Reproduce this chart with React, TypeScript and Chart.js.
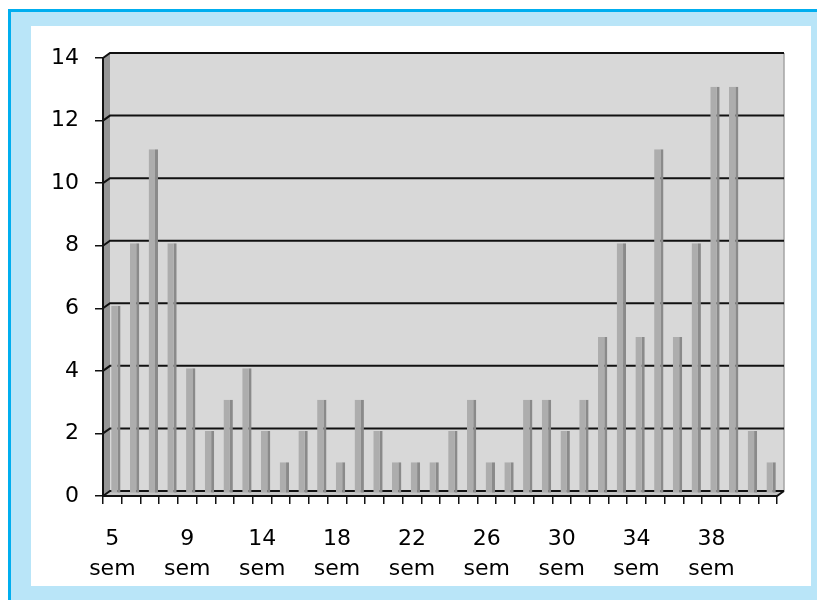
import React, { useEffect, useRef } from "react";
import { Chart, registerables } from "chart.js";

Chart.register(...registerables);

const weeks = [5, 6, 7, 8, 9, 10, 11, 13, 14, 15, 16, 17, 18, 19, 20, 21, 22, 23, 24, 25, 26, 27, 28, 29, 30, 31, 32, 33, 34, 35, 36, 37, 38, 39, 40, 41];
const counts = [6, 8, 11, 8, 4, 2, 3, 4, 2, 1, 2, 3, 1, 3, 2, 1, 1, 1, 2, 3, 1, 1, 3, 3, 2, 3, 5, 8, 5, 11, 5, 8, 13, 13, 2, 1];
const yTicks = [0, 2, 4, 6, 8, 10, 12, 14];
const unitLabel = "sem";

const FONT = '"DejaVu Sans", Verdana, sans-serif';
const DX = 7;
const DY = 5;

const wallPlugin = {
  id: "wall3d",
  beforeDatasetsDraw(chart: any) {
    const { ctx, chartArea } = chart;
    const { left: L, right: R, top: T, bottom: B } = chartArea;
    const y = chart.scales.y;
    ctx.save();
    // back wall
    ctx.fillStyle = "#d8d8d8";
    ctx.fillRect(L + DX, T - DY, R - L, B - T);
    // left wall
    ctx.fillStyle = "#959595";
    ctx.beginPath();
    ctx.moveTo(L, T);
    ctx.lineTo(L + DX, T - DY);
    ctx.lineTo(L + DX, B - DY);
    ctx.lineTo(L, B);
    ctx.closePath();
    ctx.fill();
    // floor
    ctx.fillStyle = "#c4c4c4";
    ctx.beginPath();
    ctx.moveTo(L, B);
    ctx.lineTo(L + DX, B - DY);
    ctx.lineTo(R + DX, B - DY);
    ctx.lineTo(R, B);
    ctx.closePath();
    ctx.fill();
    // right edge of wall
    ctx.strokeStyle = "#a4a4a4";
    ctx.lineWidth = 1.5;
    ctx.beginPath();
    ctx.moveTo(R + DX, T - DY);
    ctx.lineTo(R + DX, B - DY);
    ctx.stroke();
    // gridlines
    ctx.strokeStyle = "#111";
    ctx.lineWidth = 2;
    yTicks.forEach((v) => {
      const py = y.getPixelForValue(v);
      ctx.beginPath();
      ctx.moveTo(L, py);
      ctx.lineTo(L + DX, py - DY);
      ctx.lineTo(R + DX, py - DY);
      ctx.stroke();
    });
    // floor front edge
    ctx.beginPath();
    ctx.moveTo(L, B);
    ctx.lineTo(R, B);
    ctx.lineTo(R + DX, B - DY);
    ctx.stroke();
    // left axis line
    ctx.beginPath();
    ctx.moveTo(L, T);
    ctx.lineTo(L, B);
    ctx.stroke();
    ctx.restore();
    ctx.save();
    ctx.translate(DX / 2, -DY / 2);
  },
  afterDatasetsDraw(chart: any) {
    chart.ctx.restore();
  },
};

export default function App() {
  const ref = useRef<HTMLCanvasElement>(null);
  useEffect(() => {
    if (!ref.current) return;
    const chart = new Chart(ref.current, {
      type: "bar",
      data: {
        labels: weeks.map((w) => [String(w), unitLabel]),
        datasets: [
          {
            data: counts,
            backgroundColor: "#adadad",
            borderColor: "#8a8a8a",
            borderWidth: { left: 0, top: 0, bottom: 0, right: 3 },
            borderSkipped: false,
            barPercentage: 0.5,
            categoryPercentage: 1,
          },
        ],
      },
      options: {
        responsive: false,
        animation: false,
        layout: { padding: { top: 32, right: 34, left: 0, bottom: 0 } },
        plugins: { legend: { display: false }, tooltip: { enabled: false } },
        scales: {
          x: {
            offset: true,
            grid: {
              offset: true,
              drawOnChartArea: false,
              drawTicks: true,
              tickLength: 8,
              color: "#111",
              lineWidth: 1.5,
            },
            border: { display: false },
            ticks: {
              autoSkip: false,
              maxRotation: 0,
              minRotation: 0,
              color: "#000",
              padding: 21,
              font: { family: FONT, size: 22, lineHeight: 1.33 },
              callback: function (_v: any, i: number) {
                return i % 4 === 0 ? [String(weeks[i]), unitLabel] : "";
              },
            },
            afterFit: (s: any) => {
              s.height = 90;
            },
          },
          y: {
            min: 0,
            max: 14,
            grid: {
              drawOnChartArea: false,
              drawTicks: true,
              tickLength: 8,
              color: "#111",
              lineWidth: 1.5,
            },
            border: { display: false },
            ticks: {
              stepSize: 2,
              color: "#000",
              padding: 16,
              font: { family: FONT, size: 22 },
            },
            afterFit: (s: any) => {
              s.width = 72;
            },
          },
        },
      },
      plugins: [wallPlugin],
    });
    return () => chart.destroy();
  }, []);

  return (
    <div
      style={{
        position: "absolute",
        left: 8,
        top: 9,
        width: 809,
        height: 591,
        boxSizing: "border-box",
        background: "#b9e5f8",
        borderTop: "3px solid #00aeef",
        borderLeft: "3px solid #00aeef",
      }}
    >
      <div
        style={{
          position: "absolute",
          left: 20,
          top: 14,
          width: 780,
          height: 560,
          background: "#fff",
        }}
      >
        <canvas ref={ref} width={780} height={560} style={{ display: "block" }} />
      </div>
    </div>
  );
}
